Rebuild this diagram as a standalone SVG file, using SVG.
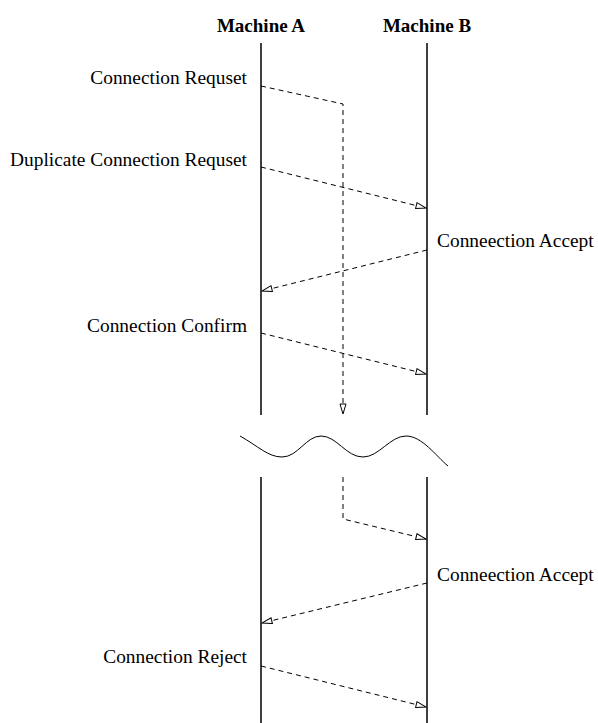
<svg xmlns="http://www.w3.org/2000/svg" width="598" height="723" viewBox="0 0 598 723">
<style>
.t{font-family:"Liberation Serif","Times New Roman",serif;font-size:19.4px;fill:#000}
.h{font-family:"Liberation Serif","Times New Roman",serif;font-size:19px;font-weight:bold;fill:#000}
.life{stroke:#000;stroke-width:1.5;fill:none}
.msg{stroke:#000;stroke-width:1;fill:none;stroke-dasharray:5,4}
</style>
<defs>
<marker id="ar" markerWidth="12" markerHeight="8" refX="11" refY="4" orient="auto" markerUnits="userSpaceOnUse">
<path d="M1,1 L11,4 L1,7 Z" fill="#fff" stroke="#000" stroke-width="1"/>
</marker>
</defs>
<rect width="598" height="723" fill="#fff"/>
<g id="machineA">
<text class="h" x="261" y="32" text-anchor="middle">Machine A</text>
<line class="life" x1="261" y1="43" x2="261" y2="415"/>
<line class="life" x1="261" y1="477" x2="261" y2="723"/>
</g>
<g id="machineB">
<text class="h" x="427" y="32" text-anchor="middle">Machine B</text>
<line class="life" x1="427" y1="43" x2="427" y2="415"/>
<line class="life" x1="427" y1="477" x2="427" y2="723"/>
</g>
<g id="break">
<path d="M240,436 C258,446 268,457 282,457 C298,457 306,436 321,436 C337,436 346,457 363,457 C379,457 390,436 406,436 C422,436 436,456 448,466" stroke="#000" stroke-width="1" fill="none"/>
</g>
<g id="labels">
<text class="t" x="247" y="84" text-anchor="end">Connection Requset</text>
<text class="t" x="247" y="166" text-anchor="end">Duplicate Connection Requset</text>
<text class="t" x="437" y="247">Conneection Accept</text>
<text class="t" x="247" y="332" text-anchor="end">Connection Confirm</text>
<text class="t" x="437" y="581">Conneection Accept</text>
<text class="t" x="247" y="663" text-anchor="end">Connection Reject</text>
</g>
<g id="connectors">
<polyline class="msg" points="261,86 343,104 343,414" marker-end="url(#ar)"/>
<line class="msg" x1="261" y1="167" x2="426" y2="208" marker-end="url(#ar)"/>
<line class="msg" x1="427" y1="250" x2="262" y2="291" marker-end="url(#ar)"/>
<line class="msg" x1="261" y1="333" x2="426" y2="374" marker-end="url(#ar)"/>
<polyline class="msg" points="343,477 343,519 426,539" marker-end="url(#ar)"/>
<line class="msg" x1="427" y1="583" x2="262" y2="623" marker-end="url(#ar)"/>
<line class="msg" x1="261" y1="666" x2="426" y2="707" marker-end="url(#ar)"/>
</g>
</svg>
